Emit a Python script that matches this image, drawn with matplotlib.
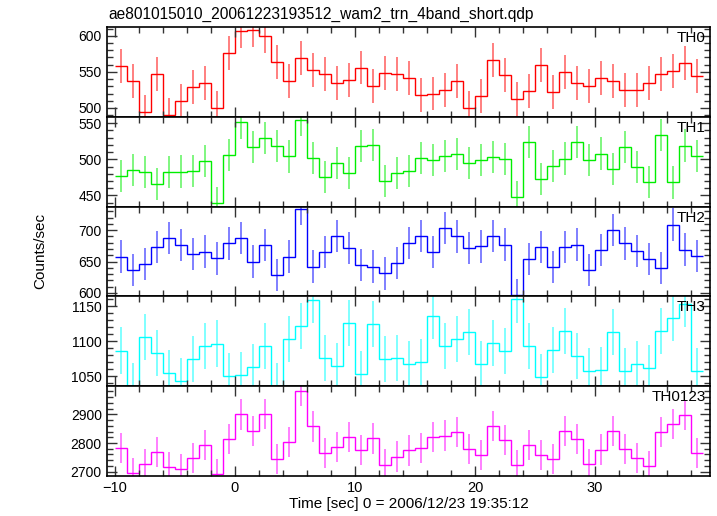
import numpy as np
import matplotlib.pyplot as plt
from matplotlib.ticker import MultipleLocator

plt.rcParams['font.family'] = ['Liberation Sans', 'DejaVu Sans']

title = "ae801015010_20061223193512_wam2_trn_4band_short.qdp"

# 1 s time bins, relative to 2006/12/23 19:35:12
time_edges = np.arange(-10, 40)
time = time_edges[:-1] + 0.5

th0 = [558, 537, 494, 547, 490, 509, 529, 535, 500, 576,
       607, 608, 599, 564, 537, 569, 552, 547, 535, 539,
       556, 530, 548, 547, 542, 518, 520, 525, 537, 500,
       516, 566, 546, 512, 523, 559, 522, 550, 534, 531,
       541, 537, 525, 525, 535, 547, 551, 562, 544]
th1 = [477, 485, 482, 466, 482, 483, 484, 498, 439, 506,
       551, 517, 530, 518, 504, 555, 502, 476, 495, 481,
       518, 520, 470, 481, 484, 502, 499, 505, 507, 495,
       499, 503, 500, 448, 524, 473, 491, 501, 524, 499,
       508, 487, 517, 489, 469, 534, 468, 519, 505]
th2 = [658, 637, 646, 673, 688, 676, 662, 666, 655, 679,
       688, 650, 676, 629, 658, 734, 642, 665, 691, 672,
       644, 642, 631, 648, 680, 691, 665, 703, 690, 672,
       674, 691, 677, 597, 654, 673, 641, 673, 677, 637,
       668, 700, 679, 667, 654, 640, 709, 669, 659]
th3 = [1087, 1036, 1106, 1083, 1055, 1043, 1075, 1094, 1097, 1050,
       1052, 1064, 1093, 1036, 1104, 1122, 1159, 1076, 1065, 1126,
       1054, 1125, 1075, 1076, 1067, 1071, 1137, 1093, 1104, 1113,
       1067, 1098, 1086, 1160, 1094, 1049, 1088, 1115, 1079, 1058,
       1059, 1114, 1058, 1068, 1062, 1115, 1134, 1153, 1058]
th0123 = [2783, 2695, 2728, 2769, 2715, 2710, 2749, 2793, 2691, 2814,
          2900, 2841, 2901, 2745, 2804, 2983, 2858, 2764, 2786, 2820,
          2775, 2816, 2725, 2753, 2774, 2783, 2821, 2826, 2839, 2780,
          2757, 2859, 2810, 2722, 2793, 2757, 2743, 2841, 2814, 2726,
          2777, 2841, 2780, 2749, 2719, 2839, 2867, 2898, 2766]

# Poisson error per panel
errors = [23.5, 22.3, 25.8, 33.0, 52.8]

names = ["TH0", "TH1", "TH2", "TH3", "TH0123"]
series = [th0, th1, th2, th3, th0123]
colors = ["#ff0000", "#00ee00", "#0000ff", "#00ffff", "#ff00ff"]
ylims = [(487.5, 611.7), (434.5, 558.6), (594.5, 737.5), (1036.2, 1164.5), (2686, 2999)]
majors = [50, 50, 50, 50, 100]
minors = [10, 10, 10, 10, 20]

fig, axes = plt.subplots(5, 1, sharex=True, figsize=(7.17, 5.16), dpi=100)
fig.subplots_adjust(left=106.7 / 717, right=710.4 / 717,
                    top=1 - 27.3 / 516, bottom=1 - 475.7 / 516, hspace=0)

for ax, name, vals, err, c, yl, mj, mn in zip(axes, names, series, errors,
                                               colors, ylims, majors, minors):
    ax.errorbar(time, vals, yerr=err, fmt="none", ecolor=c, elinewidth=1.4,
                alpha=0.5, capsize=0)
    ax.stairs(vals, time_edges, baseline=None, color=c, linewidth=1.0)
    ax.set_ylim(*yl)
    ax.set_xlim(-10.67, 39.6)
    ax.yaxis.set_major_locator(MultipleLocator(mj))
    ax.yaxis.set_minor_locator(MultipleLocator(mn))
    ax.xaxis.set_major_locator(MultipleLocator(10))
    ax.xaxis.set_minor_locator(MultipleLocator(2))
    ax.tick_params(which="both", direction="in", top=True, right=True,
                   width=1.0, color="#333333", labelsize=10)
    ax.tick_params(which="major", length=7)
    ax.tick_params(which="minor", length=4)
    for s in ax.spines.values():
        s.set_linewidth(1.2)
    ax.text(0.992, 0.955, name, transform=ax.transAxes, ha="right", va="top",
            fontsize=11)

axes[-1].tick_params(axis="x", labelsize=10.5)
axes[-1].set_xlabel("Time [sec] 0 = 2006/12/23 19:35:12", fontsize=11, labelpad=2)
fig.text(40 / 717, 1 - 251 / 516, "Counts/sec", rotation=90, ha="center",
         va="center", fontsize=11)
fig.text(108 / 717, 1 - 14 / 516, title, ha="left", va="center", fontsize=11.2)

plt.savefig("out.png", dpi=100)
